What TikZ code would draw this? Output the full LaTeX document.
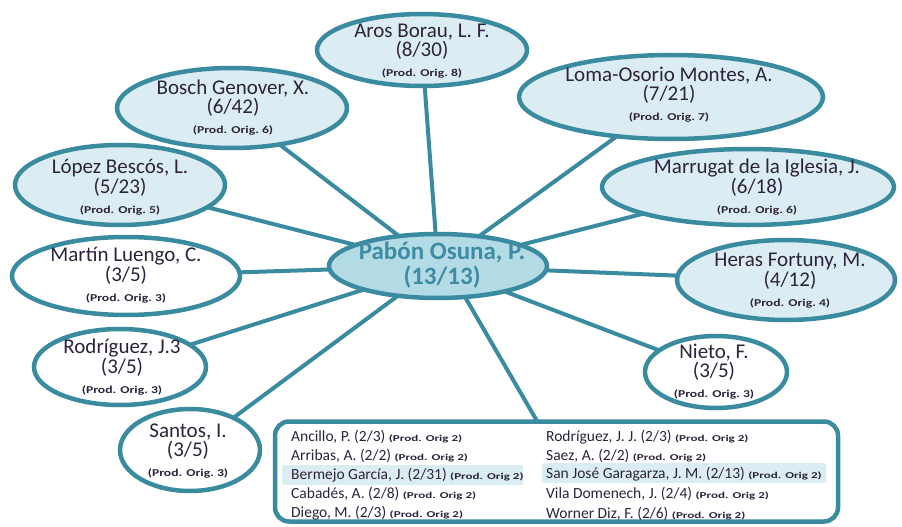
\documentclass[tikz,border=0pt]{standalone}
\usepackage{fontspec}
\setmainfont{Carlito}
\usetikzlibrary{shapes.geometric,backgrounds}

\definecolor{rim}{RGB}{58,139,160}
\definecolor{paleblue}{RGB}{219,237,243}
\definecolor{hubblue}{RGB}{178,219,230}
\definecolor{hubink}{RGB}{62,139,164}
\definecolor{ink}{RGB}{45,35,60}

\newcommand\namesize{\fontsize{21}{17}\selectfont}
\newcommand\hubsize{\fontsize{25}{25}\selectfont}
\newcommand\rowsize{\fontsize{15.5}{16}\selectfont}
\newcommand\origtag[1]{{\fontsize{10.5}{12}\selectfont\bfseries\scalebox{1.3}[1]{(Prod. Orig.~#1)}}}
\newcommand\rowtag[1]{{\fontsize{9}{10}\selectfont\bfseries\scalebox{1.45}[1]{(Prod. Orig #1)}}}
\newcommand\persona[3]{#1\\#2\\[3pt]\origtag{#3}}
\newcommand\entry[2]{#1 \rowtag{#2}}

\tikzset{
  member/.style={ellipse, draw=rim, line width=4.5pt, inner sep=0pt},
  shaded/.style={member, fill=paleblue},
  plain/.style={member, fill=white},
  nametext/.style={align=center, font=\namesize, text=ink, inner sep=0pt},
  link/.style={draw=rim, line width=4pt},
  rowtext/.style={anchor=base west, inner sep=0pt, font=\rowsize, text=ink},
  band/.style={fill=paleblue, rounded corners=2pt},
}

\begin{document}
\begin{tikzpicture}[x=1pt, y=-1pt]
\useasboundingbox (0,0) rectangle (902,527);

% central author
\node[member, fill=hubblue, minimum width=218pt, minimum height=64pt] (hub) at (438,266) {};
\node[align=center, font=\hubsize\bfseries, text=hubink, inner sep=0pt] (hub-txt) at (442,265) {Pabón Osuna, P.\\(13/13)};

% co-authors
\node[shaded, minimum width=210pt, minimum height=72pt] (aros)     at (422,50)  {};
\node[shaded, minimum width=230pt, minimum height=80pt] (bosch)    at (232,108) {};
\node[shaded, minimum width=210pt, minimum height=80pt] (lopez)    at (120,185) {};
\node[plain,  minimum width=228pt, minimum height=78pt] (martin)   at (126,276) {};
\node[plain,  minimum width=172pt, minimum height=76pt] (rodri)    at (120,367) {};
\node[plain,  minimum width=140pt, minimum height=82pt] (santos)   at (190,450) {};
\node[shaded, minimum width=304pt, minimum height=84pt] (loma)     at (671,97)  {};
\node[shaded, minimum width=292pt, minimum height=76pt] (marrugat) at (748,187) {};
\node[shaded, minimum width=218pt, minimum height=80pt] (heras)    at (786,280) {};
\node[plain,  minimum width=142pt, minimum height=72pt] (nieto)    at (716,372) {};

\node[nametext] (aros-txt)     at (422,51)  {\persona{Aros Borau, L. F.}{(8/30)}{8}};
\node[nametext] (bosch-txt)    at (233,108) {\persona{Bosch Genover, X.}{(6/42)}{6}};
\node[nametext] (lopez-txt)    at (120,187) {\persona{López Bescós, L.}{(5/23)}{5}};
\node[nametext] (martin-txt)   at (126,275) {\persona{Martín Luengo, C.}{(3/5)}{3}};
\node[nametext] (rodri-txt)    at (122,367) {\persona{Rodríguez, J.3}{(3/5)}{3}};
\node[nametext] (santos-txt)   at (188,451) {\persona{Santos, I.}{(3/5)}{3}};
\node[nametext] (loma-txt)     at (669,95)  {\persona{Loma-Osorio Montes, A.}{(7/21)}{7}};
\node[nametext] (marrugat-txt) at (757,187) {\persona{Marrugat de la Iglesia, J.}{(6/18)}{6}};
\node[nametext] (heras-txt)    at (790,281) {\persona{Heras Fortuny, M.}{(4/12)}{4}};
\node[nametext] (nieto-txt)    at (714,372) {\persona{Nieto, F.}{(3/5)}{3}};

% box of occasional co-authors
\node[draw=rim, line width=4.5pt, rounded corners=14pt, fill=white,
      minimum width=563pt, minimum height=100pt, inner sep=0pt] (roster) at (556.5,471.5) {};
\coordinate (drop) at (537,421);

% spokes
\begin{scope}[on background layer]
  \foreach \n in {aros,bosch,lopez,martin,rodri,santos,loma,marrugat,heras,nieto}
    \draw[link] (hub.center) -- (\n.center);
  \draw[link] ([xshift=9pt]hub.center) -- (drop);
\end{scope}

% highlighted rows
\fill[band] (282,465) rectangle (523,485);
\fill[band] (542,463) rectangle (826,483);

% left column
\node[rowtext] (r1) at (291,441) {\entry{Ancillo, P. (2/3)}{2}};
\node[rowtext] (r2) at (291,460) {\entry{Arribas, A. (2/2)}{2}};
\node[rowtext] (r3) at (291,479) {\entry{Bermejo García, J. (2/31)}{2}};
\node[rowtext] (r4) at (291,498) {\entry{Cabadés, A. (2/8)}{2}};
\node[rowtext] (r5) at (291,517) {\entry{Diego, M. (2/3)}{2}};
% right column
\node[rowtext] (r6)  at (546,441) {\entry{Rodríguez, J. J. (2/3)}{2}};
\node[rowtext] (r7)  at (546,460) {\entry{Saez, A. (2/2)}{2}};
\node[rowtext] (r8)  at (546,478) {\entry{San José Garagarza, J. M. (2/13)}{2}};
\node[rowtext] (r9)  at (546,498) {\entry{Vila Domenech, J. (2/4)}{2}};
\node[rowtext] (r10) at (546,518) {\entry{Worner Diz, F. (2/6)}{2}};
\end{tikzpicture}
\end{document}
